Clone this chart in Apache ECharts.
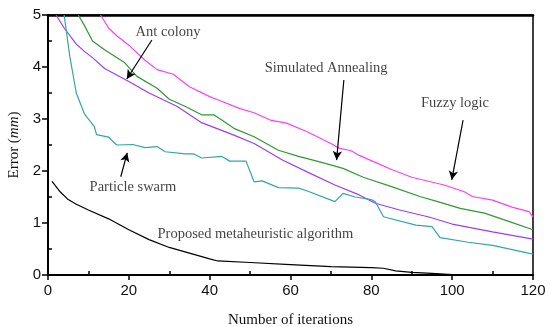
<!DOCTYPE html>
<html><head><meta charset="utf-8">
<script src="https://cdn.jsdelivr.net/npm/echarts@6/dist/echarts.min.js"></script>
<style>html,body{margin:0;padding:0;background:#fff}#c{width:550px;height:327px}</style>
</head><body><div id="c"></div>
<script>
// Data: [iteration, error (mm)]
const fuzzyLogic = [[13,5],[15,4.75],[17,4.6],[20,4.42],[24,4.13],[27,3.95],[31,3.86],[35,3.62],[40,3.43],[42,3.37],[47.5,3.2],[51,3.12],[55,2.98],[59,2.92],[64,2.76],[70,2.53],[72,2.44],[75,2.39],[77,2.3],[80,2.2],[85,2.03],[90,1.88],[98,1.73],[103,1.6],[105,1.51],[110,1.44],[115,1.3],[119,1.22],[120,1.12]];
const simulatedAnnealing = [[7.5,5],[9,4.8],[11,4.5],[14,4.33],[19,4.08],[22,3.82],[27,3.59],[30,3.38],[34,3.24],[38,3.08],[41,3.08],[43,2.98],[46,2.82],[51,2.66],[57,2.4],[62,2.28],[67,2.18],[73,2.05],[78,1.88],[85,1.7],[92,1.51],[96,1.42],[102,1.28],[108,1.19],[114,1.03],[120,0.87]];
const antColony = [[2,5],[4,4.75],[7,4.44],[9,4.3],[11,4.18],[14,3.97],[20,3.72],[25,3.5],[32,3.24],[38,2.93],[46,2.69],[51,2.53],[58,2.21],[65,1.95],[71,1.73],[77,1.54],[81,1.38],[87,1.25],[94,1.12],[100,0.98],[110,0.83],[120,0.69]];
const particleSwarm = [[4,5],[5.4,4.2],[7,3.5],[9,3.1],[10.5,2.95],[11.5,2.85],[12,2.7],[15,2.65],[17,2.5],[21,2.51],[24,2.45],[27,2.47],[29,2.37],[34,2.33],[36,2.33],[38,2.25],[43,2.28],[45,2.19],[49,2.19],[51,1.79],[53,1.81],[57,1.68],[62,1.67],[64,1.62],[71,1.41],[73,1.57],[76,1.5],[80,1.45],[81,1.41],[83,1.12],[91,0.96],[95,0.93],[97,0.72],[104,0.63],[110,0.57],[120,0.4]];
const proposed = [[1,1.8],[3,1.6],[5,1.45],[7,1.36],[10,1.25],[15,1.08],[20,0.87],[25,0.68],[30,0.53],[35,0.42],[40,0.31],[42,0.27],[50,0.24],[60,0.2],[70,0.16],[80,0.14],[83,0.13],[86,0.08],[90,0.05],[95,0.03],[100,0.01],[105,0],[120,0]];

const xTicks = [0,20,40,60,80,100,120];
const xMinorTicks = [10,30,50,70,90,110];
const yTicks = [0,1,2,3,4,5];
const yMinorTicks = [0.5,1.5,2.5,3.5,4.5];

// Annotation texts and arrows (data coordinates)
const annotations = [
  {name:'Ant colony', at:[29.7,4.67], from:[25.7,4.52], to:[19.5,3.77]},
  {name:'Simulated Annealing', at:[68.8,3.98], from:[73.2,3.75], to:[71.4,2.21]},
  {name:'Fuzzy logic', at:[100.7,3.31], from:[102.7,2.98], to:[99.9,1.83]},
  {name:'Particle swarm', at:[21.0,1.69], from:[18,1.89], to:[19.6,2.35]},
  {name:'Proposed metaheuristic algorithm', at:[51.3,0.79], from:null, to:null}
];

const serif = '"Liberation Serif", "Times New Roman", serif';
const sans = '"Liberation Sans", Arial, sans-serif';

const chart = echarts.init(document.getElementById('c'), null, {renderer:'canvas'});
function lineSeries(name, data, color){
  return {name, type:'line', data, showSymbol:false, symbol:'none',
    lineStyle:{color, width:1.2}, itemStyle:{color}, animation:false, z:3};
}
const series = [
  lineSeries('Fuzzy logic', fuzzyLogic, '#ff3dff'),
  lineSeries('Simulated Annealing', simulatedAnnealing, '#2f9a2f'),
  lineSeries('Ant colony', antColony, '#9a3dff'),
  lineSeries('Particle swarm', particleSwarm, '#33a6a6'),
  lineSeries('Proposed metaheuristic algorithm', proposed, '#000000'),
  {
    name:'annot', type:'scatter', symbolSize:1, itemStyle:{color:'rgba(0,0,0,0)'},
    data: annotations.map(a => ({name:a.name, value:a.at})),
    label:{show:true, position:'inside', formatter:p=>p.name, color:'#111', fontFamily:serif, fontSize:14.5},
    silent:true, animation:false, z:5,
    markLine:{
      silent:true, symbol:['none','arrow'], symbolSize:[7,9], animation:false,
      lineStyle:{color:'#000', width:1.2, type:'solid'}, label:{show:false},
      data: annotations.filter(a=>a.from).map(a => [{coord:a.from},{coord:a.to}])
    }
  }
];

chart.setOption({
  backgroundColor:'#fff',
  animation:false,
  grid:{left:48, right:17, top:15, bottom:52, show:true, borderColor:'#000', borderWidth:1.5,
        containLabel:false, outerBoundsMode:'none'},
  xAxis:[
    {type:'value', position:'bottom', min:0, max:120, interval:20,
     axisLine:{show:true, onZero:false, lineStyle:{color:'#000', width:2}},
     axisTick:{show:true, inside:false, length:5, lineStyle:{color:'#000', width:1.5}},
     axisLabel:{color:'#111', fontFamily:sans, fontSize:15, margin:8, customValues:xTicks},
     splitLine:{show:false},
     name:'Number of iterations', nameLocation:'middle', nameGap:38,
     nameTextStyle:{color:'#111', fontFamily:serif, fontSize:15}},
    {type:'value', position:'bottom', min:0, max:120,
     axisLine:{show:false},
     axisTick:{show:true, inside:true, length:4, customValues:xMinorTicks, lineStyle:{color:'#000', width:1.5}},
     axisLabel:{show:false}, splitLine:{show:false}},
    {type:'value', position:'top', min:0, max:120,
     axisLine:{show:true, onZero:false, lineStyle:{color:'#000', width:2.5}},
     axisTick:{show:false}, axisLabel:{show:false}, splitLine:{show:false}}
  ],
  yAxis:[
    {type:'value', position:'left', min:0, max:5, interval:1,
     axisLine:{show:true, onZero:false, lineStyle:{color:'#000', width:2}},
     axisTick:{show:true, inside:false, length:6, lineStyle:{color:'#000', width:1.5}},
     axisLabel:{color:'#111', fontFamily:sans, fontSize:15, margin:7, customValues:yTicks},
     splitLine:{show:false},
     name:'{a|Error (}{b|mm}{a|)}', nameLocation:'middle', nameGap:26, nameRotate:90,
     nameTextStyle:{rich:{a:{color:'#111', fontFamily:serif, fontSize:15}, b:{color:'#111', fontFamily:serif, fontSize:15, fontStyle:'italic'}}}},
    {type:'value', position:'left', min:0, max:5,
     axisLine:{show:false},
     axisTick:{show:true, inside:true, length:4, customValues:yMinorTicks, lineStyle:{color:'#000', width:1.5}},
     axisLabel:{show:false}, splitLine:{show:false}}
  ],
  series
});
</script></body></html>
